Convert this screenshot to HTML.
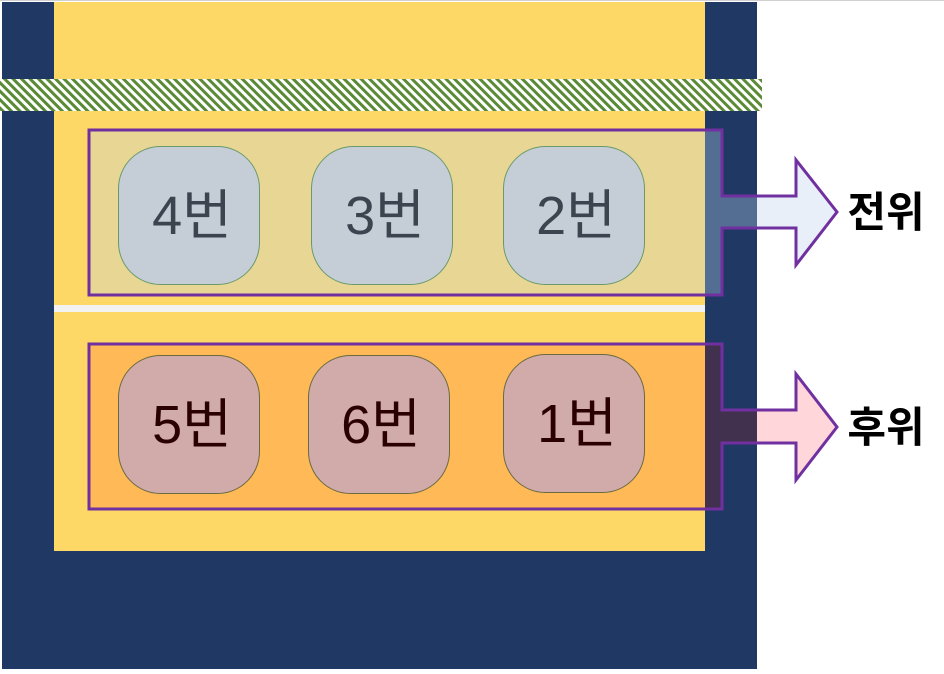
<!DOCTYPE html>
<html><head><meta charset="utf-8"><style>
html,body{margin:0;padding:0;background:#fff;width:944px;height:674px;overflow:hidden}
svg{display:block}
text{font-family:"Liberation Sans","Noto Sans CJK KR",sans-serif}
</style></head><body>
<svg width="944" height="674" viewBox="0 0 944 674" xmlns="http://www.w3.org/2000/svg">
<defs>
<pattern id="h" patternUnits="userSpaceOnUse" width="6" height="6" patternTransform="rotate(-45)">
<rect width="6" height="6" fill="#fff"/><rect width="3" height="6" fill="#5a8a36"/>
</pattern>
<clipPath id="ct"><polygon points="89,130 722,130 722,196 796,196 796,160 837,212 796,265 796,228 722,228 722,295 89,295"/></clipPath>
<clipPath id="cb"><polygon points="89,344 722,344 722,410 796,410 796,374 837,427 796,480 796,443 722,443 722,509 89,509"/></clipPath>
</defs>
<line x1="0" y1="0.5" x2="944" y2="0.5" stroke="#d0d0d0"/>
<rect x="2" y="2" width="755" height="667" fill="#203864"/>
<rect x="54" y="2" width="651" height="549" fill="#fed866"/>
<rect x="54" y="305" width="651" height="7" fill="#f2f2f2"/>
<rect x="0" y="79" width="762" height="32" fill="url(#h)"/>
<g clip-path="url(#ct)">
<rect x="80" y="120" width="625" height="190" fill="#e8d794"/>
<rect x="705" y="120" width="52" height="190" fill="#546e93"/>
<rect x="757" y="120" width="100" height="190" fill="#e8eff9"/>
</g>
<polygon points="89,130 722,130 722,196 796,196 796,160 837,212 796,265 796,228 722,228 722,295 89,295" fill="none" stroke="#7030a0" stroke-width="3"/>
<g clip-path="url(#cb)">
<rect x="80" y="334" width="625" height="190" fill="#ffb957"/>
<rect x="705" y="334" width="52" height="190" fill="#42304f"/>
<rect x="757" y="334" width="100" height="190" fill="#ffd7da"/>
</g>
<polygon points="89,344 722,344 722,410 796,410 796,374 837,427 796,480 796,443 722,443 722,509 89,509" fill="none" stroke="#7030a0" stroke-width="3"/>
<g fill="#c5cdd7" stroke="#6a9a6a" stroke-width="1">
<rect x="118.5" y="146.5" width="141" height="138" rx="42"/>
<rect x="311.5" y="146.5" width="141" height="138" rx="42"/>
<rect x="503.5" y="146.5" width="141" height="138" rx="42"/>
</g>
<g fill="#d1aaaa" stroke="#6a6a40" stroke-width="1">
<rect x="118.5" y="355.5" width="141" height="138" rx="42"/>
<rect x="308.5" y="355.5" width="141" height="138" rx="42"/>
<rect x="503.5" y="354.5" width="141" height="138" rx="42"/>
</g>
<g font-size="54" text-anchor="middle" fill="#3c4450">
<text x="192" y="234">4번</text>
<text x="385" y="234">3번</text>
<text x="576" y="234">2번</text>
</g>
<g font-size="54" text-anchor="middle" fill="#2a0000">
<text x="192" y="443">5번</text>
<text x="381" y="443">6번</text>
<text x="577" y="442">1번</text>
</g>
<g font-size="42" font-weight="bold" fill="#000" text-anchor="middle">
<text x="886" y="227">전위</text>
<text x="886" y="442">후위</text>
</g>
</svg>
</body></html>
